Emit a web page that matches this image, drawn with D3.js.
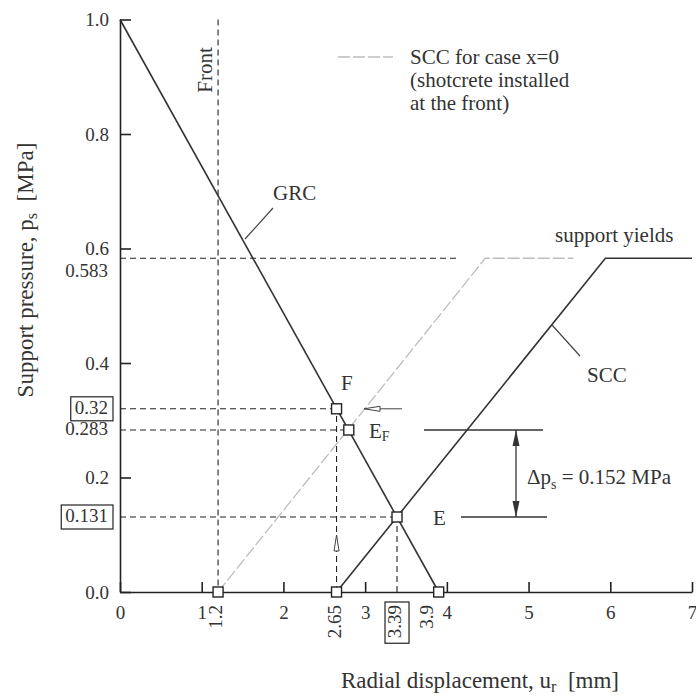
<!DOCTYPE html>
<html>
<head>
<meta charset="utf-8">
<script src="https://cdn.jsdelivr.net/npm/d3@7"></script>
<style>
  body { margin: 0; background: #fff; }
</style>
</head>
<body>
<div id="chart"></div>
<script>
// curves: [displacement mm, pressure MPa]
var grc = [[0, 1.0], [3.9, 0]];
var scc = [[2.65, 0], [5.94, 0.583], [7, 0.583]];
var sccFront = [[1.2, 0], [4.47, 0.583], [5.55, 0.583]];
var keyPoints = [[1.2, 0], [2.65, 0], [2.65, 0.32], [2.8, 0.283], [3.39, 0.131], [3.9, 0]];
var xTicks = [0, 1, 2, 3, 4, 5, 6, 7];
var yTicks = [0, 0.2, 0.4, 0.6, 0.8, 1.0];
var xMarks = ['1.2', '2.65', '3.39', '3.9'];
var yMarks = ['0.583', '0.32', '0.283', '0.131'];
var boxed = ['0.32', '0.131', '3.39'];
var legendLines = ['SCC for case x=0', '(shotcrete installed', 'at the front)'];

var w = 696, h = 698;
var serif = "'Liberation Serif', 'Times New Roman', Times, 'DejaVu Serif', serif";
var svg = d3.select('#chart').append('svg').attr('width', w).attr('height', h)
	.attr('font-family', serif);

var x = d3.scaleLinear().domain([0, 7]).range([120, 692]);
var y = d3.scaleLinear().domain([0, 1]).range([592, 19.5]);
var line = d3.line().x(function(d) { return x(d[0]); }).y(function(d) { return y(d[1]); });

var dash = '6,4';
var fs = '19px';   // tick labels
var fa = '21px';   // annotations
var ft = '23px';   // axis titles

// dashed guide lines
function guide(x1, y1, x2, y2) {
	svg.append('line').attr('x1', x(x1)).attr('x2', x(x2)).attr('y1', y(y1)).attr('y2', y(y2))
		.attr('stroke', '#222').attr('stroke-width', 1.1).attr('stroke-dasharray', dash);
}
guide(1.2, 1.0, 1.2, 0);
guide(0, 0.583, 4.12, 0.583);
guide(0, 0.32, 2.65, 0.32);
guide(0, 0.283, 2.8, 0.283);
guide(0, 0.131, 3.39, 0.131);
guide(2.65, 0, 2.65, 0.32);
guide(3.39, 0, 3.39, 0.131);

// curves
svg.append('path').datum(sccFront).attr('d', line).attr('fill', 'none')
	.attr('stroke', '#bdbdbd').attr('stroke-width', 1.3).attr('stroke-dasharray', '12,3');
svg.append('path').datum(grc).attr('d', line).attr('fill', 'none')
	.attr('stroke', '#333').attr('stroke-width', 1.6);
svg.append('path').datum(scc).attr('d', line).attr('fill', 'none')
	.attr('stroke', '#333').attr('stroke-width', 1.6);

// axes
var xAxis = d3.axisBottom(x).tickValues(xTicks).tickFormat(d3.format('d'))
	.tickSizeInner(-10).tickSizeOuter(0).tickPadding(14);
var yAxis = d3.axisLeft(y).tickValues(yTicks).tickFormat(d3.format('.1f'))
	.tickSizeInner(-11).tickSizeOuter(0).tickPadding(11);

var gx = svg.append('g').attr('transform', 'translate(0,' + y(0) + ')').call(xAxis);
var gy = svg.append('g').attr('transform', 'translate(' + x(0) + ',0)').call(yAxis);
[gx, gy].forEach(function(g) {
	g.attr('font-family', serif).attr('font-size', fs);
	g.selectAll('path, line').attr('stroke', '#222').attr('stroke-width', 1.6);
	g.selectAll('text').attr('fill', '#333');
});

// extra y labels
yMarks.forEach(function(m) {
	var v = +m;
	var ty = y(v) + (m === '0.583' ? 14 : 1);
	var t = svg.append('text').attr('x', 108).attr('y', ty).attr('text-anchor', 'end')
		.attr('dominant-baseline', 'middle').attr('font-size', fs).attr('fill', '#333').text(m);
	if (boxed.indexOf(m) >= 0) {
		var b = t.node().getBBox();
		svg.append('rect').attr('x', b.x - 4).attr('y', y(v) - 12).attr('width', b.width + 9).attr('height', 24)
			.attr('fill', 'none').attr('stroke', '#222').attr('stroke-width', 1.2);
	}
});

// extra x labels, rotated
xMarks.forEach(function(m) {
	var v = +m;
	var px = x(v) + (m === '3.9' ? -10 : 0);
	var t = svg.append('text').attr('transform', 'translate(' + px + ',' + (y(0) + 13) + ') rotate(-90)')
		.attr('text-anchor', 'end').attr('dominant-baseline', 'middle')
		.attr('font-size', fs).attr('fill', '#333').text(m);
	if (boxed.indexOf(m) >= 0) {
		var b = t.node().getBBox();
		svg.append('rect').attr('x', px - 12).attr('y', y(0) + 10).attr('width', 24).attr('height', b.width + 8)
			.attr('fill', 'none').attr('stroke', '#222').attr('stroke-width', 1.2);
	}
});

// key points
svg.selectAll('rect.pt').data(keyPoints).enter().append('rect').attr('class', 'pt')
	.attr('x', function(d) { return x(d[0]) - 5; })
	.attr('y', function(d) { return y(d[1]) - 5; })
	.attr('width', 10).attr('height', 10)
	.attr('fill', '#fff').attr('stroke', '#222').attr('stroke-width', 1.4);

// open arrows
svg.append('line').attr('x1', 366).attr('x2', 402).attr('y1', y(0.32)).attr('y2', y(0.32))
	.attr('stroke', '#444').attr('stroke-width', 1);
svg.append('path').attr('d', 'M364,' + y(0.32) + 'l16,-2.5v5z').attr('fill', '#fff').attr('stroke', '#444');
svg.append('path').attr('d', 'M' + x(2.65) + ',535l-2.5,16h5z').attr('fill', '#fff').attr('stroke', '#444');

// delta p_s annotation
svg.append('line').attr('x1', 424).attr('x2', 543).attr('y1', y(0.283)).attr('y2', y(0.283))
	.attr('stroke', '#333').attr('stroke-width', 1.5);
svg.append('line').attr('x1', 461).attr('x2', 547).attr('y1', y(0.131)).attr('y2', y(0.131))
	.attr('stroke', '#333').attr('stroke-width', 1.5);
svg.append('line').attr('x1', 516).attr('x2', 516).attr('y1', y(0.283)).attr('y2', y(0.131))
	.attr('stroke', '#333').attr('stroke-width', 1.3);
svg.append('path').attr('d', 'M516,' + y(0.283) + 'l-3.5,16h7z').attr('fill', '#333');
svg.append('path').attr('d', 'M516,' + y(0.131) + 'l-3.5,-16h7z').attr('fill', '#333');
var dp = svg.append('text').attr('x', 527).attr('y', 484).attr('font-size', fa).attr('fill', '#333');
dp.append('tspan').text('\u0394p');
dp.append('tspan').attr('font-size', '14px').attr('dy', 5).text('s');
dp.append('tspan').attr('dy', -5).text(' = 0.152 MPa');

// point labels
svg.append('text').attr('x', 341).attr('y', 390).attr('font-size', fa).attr('fill', '#333').text('F');
var ef = svg.append('text').attr('x', 369).attr('y', 438).attr('font-size', fa).attr('fill', '#333');
ef.append('tspan').text('E');
ef.append('tspan').attr('font-size', '14px').attr('dy', 3).text('F');
svg.append('text').attr('x', 433).attr('y', 525).attr('font-size', fa).attr('fill', '#333').text('E');

// curve labels with leaders
svg.append('line').attr('x1', 245).attr('y1', 239).attr('x2', 273).attr('y2', 208)
	.attr('stroke', '#444').attr('stroke-width', 1.2);
svg.append('text').attr('x', 273).attr('y', 200).attr('font-size', fa).attr('fill', '#333').text('GRC');
svg.append('line').attr('x1', 552).attr('y1', 325).attr('x2', 580).attr('y2', 356)
	.attr('stroke', '#444').attr('stroke-width', 1.2);
svg.append('text').attr('x', 587).attr('y', 382).attr('font-size', fa).attr('fill', '#333').text('SCC');
svg.append('text').attr('x', 555).attr('y', 242).attr('font-size', fa).attr('fill', '#333').text('support yields');
svg.append('text').attr('transform', 'translate(' + 212 + ',70) rotate(-90)').attr('text-anchor', 'middle')
	.attr('font-size', fa).attr('fill', '#333').text('Front');

// legend
svg.append('line').attr('x1', 338).attr('x2', 393).attr('y1', 57).attr('y2', 57)
	.attr('stroke', '#bdbdbd').attr('stroke-width', 1.3).attr('stroke-dasharray', '12,3');
svg.selectAll('text.leg').data(legendLines).enter().append('text').attr('class', 'leg')
	.attr('x', 410).attr('y', function(d, i) { return 64 + i * 23; })
	.attr('font-size', fa).attr('fill', '#333').text(function(d) { return d; });

// axis titles
var xt = svg.append('text').attr('x', 480).attr('y', 688).attr('text-anchor', 'middle')
	.attr('font-size', ft).attr('fill', '#333').attr('xml:space', 'preserve');
xt.append('tspan').text('Radial displacement, u');
xt.append('tspan').attr('font-size', '16px').attr('dy', 4).text('r');
xt.append('tspan').attr('dy', -4).text('  [mm]');
var yt = svg.append('text').attr('transform', 'translate(33,270) rotate(-90)').attr('text-anchor', 'middle')
	.attr('font-size', ft).attr('fill', '#333').attr('xml:space', 'preserve');
yt.append('tspan').text('Support pressure, p');
yt.append('tspan').attr('font-size', '16px').attr('dy', 4).text('s');
yt.append('tspan').attr('dy', -4).text('  [MPa]');
</script>
</body>
</html>
